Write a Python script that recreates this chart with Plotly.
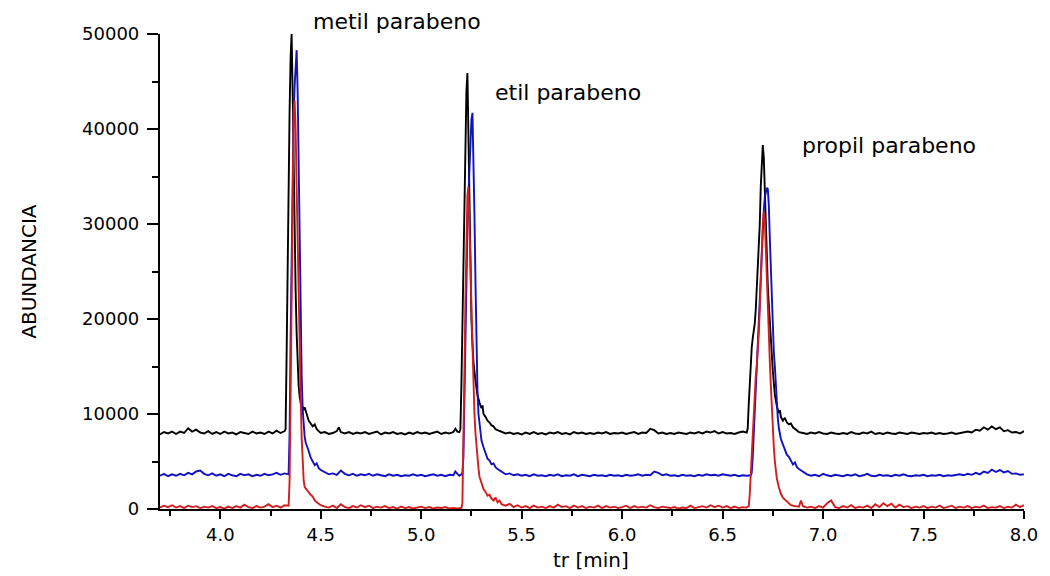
import plotly.graph_objects as go

# Chromatogram traces: (retention time [min], abundance) pairs
black_trace = [
    (3.70, 7850), (3.72, 8100), (3.74, 7950), (3.76, 8150), (3.78, 7900), (3.80, 8150),
    (3.82, 8000), (3.84, 8500), (3.86, 8150), (3.88, 8350), (3.90, 8050), (3.92, 7950),
    (3.94, 8200), (3.96, 7900), (3.98, 8100), (4.00, 7900), (4.02, 8150), (4.04, 7950),
    (4.06, 8050), (4.08, 7850), (4.10, 8100), (4.12, 8000), (4.14, 7900), (4.16, 8150),
    (4.18, 7950), (4.20, 8050), (4.22, 7900), (4.24, 8150), (4.26, 7950), (4.28, 8250),
    (4.30, 8000), (4.32, 8200),
    (4.325, 8400), (4.33, 16000), (4.335, 26000), (4.34, 34000), (4.345, 42000),
    (4.35, 47500), (4.355, 50000), (4.36, 44000), (4.365, 36000), (4.37, 29000),
    (4.375, 23000), (4.38, 18500), (4.385, 15000), (4.39, 13000), (4.395, 11800),
    (4.40, 11000), (4.405, 10600), (4.41, 10800), (4.415, 10400), (4.42, 10700),
    (4.43, 10000), (4.44, 9300), (4.45, 9000), (4.46, 8700), (4.47, 8900), (4.48, 8400),
    (4.49, 8200), (4.50, 8000), (4.52, 8100), (4.54, 7900), (4.56, 8000), (4.58, 8200),
    (4.59, 8600), (4.60, 8100), (4.62, 7950), (4.64, 8100), (4.66, 7900), (4.68, 8050),
    (4.70, 7950), (4.72, 8100), (4.74, 7900), (4.76, 8000), (4.78, 8150), (4.80, 7850),
    (4.82, 8050), (4.84, 7950), (4.86, 8100), (4.88, 7900), (4.90, 8000), (4.92, 7850),
    (4.94, 8050), (4.96, 7900), (4.98, 8100), (5.00, 7950), (5.02, 8050), (5.04, 7900),
    (5.06, 8000), (5.08, 8150), (5.10, 7900), (5.12, 8050), (5.14, 7950), (5.16, 8100),
    (5.17, 8450), (5.18, 8150), (5.19, 8100),
    (5.195, 8400), (5.20, 13000), (5.205, 19000), (5.21, 25000), (5.215, 33000),
    (5.22, 39000), (5.225, 44000), (5.23, 45900), (5.235, 38500), (5.24, 31000),
    (5.245, 24500), (5.25, 20000), (5.255, 17500), (5.26, 15500), (5.27, 13500),
    (5.28, 12000), (5.29, 11200), (5.30, 10600), (5.305, 10900), (5.31, 10000),
    (5.32, 9700), (5.33, 9300), (5.34, 9100), (5.35, 8800), (5.36, 8700), (5.37, 8400),
    (5.38, 8300), (5.40, 8150), (5.42, 7950), (5.44, 8050), (5.46, 7900), (5.48, 8000),
    (5.50, 7850), (5.52, 8050), (5.54, 7900), (5.56, 8100), (5.58, 7900), (5.60, 8000),
    (5.62, 7850), (5.64, 8050), (5.66, 7950), (5.68, 8100), (5.70, 7900), (5.72, 8000),
    (5.74, 7850), (5.76, 8100), (5.78, 7950), (5.80, 8050), (5.82, 7900), (5.84, 8000),
    (5.86, 7900), (5.88, 8050), (5.90, 7950), (5.92, 8100), (5.94, 7900), (5.96, 8000),
    (5.98, 7950), (6.00, 8050), (6.02, 7900), (6.04, 8000), (6.06, 8100), (6.08, 7900),
    (6.10, 8050), (6.12, 8000), (6.14, 8450), (6.16, 8300), (6.18, 7950), (6.20, 8050),
    (6.22, 7900), (6.24, 8000), (6.26, 7900), (6.28, 8050), (6.30, 7950), (6.32, 7900),
    (6.34, 8050), (6.36, 7950), (6.38, 8100), (6.40, 7950), (6.42, 8150), (6.44, 8050),
    (6.46, 8200), (6.48, 7950), (6.50, 8100), (6.52, 7950), (6.54, 8000), (6.56, 7900),
    (6.58, 8050), (6.60, 8150), (6.62, 8050),
    (6.625, 8500), (6.63, 11000), (6.635, 13500), (6.64, 15500), (6.645, 17000),
    (6.65, 18000), (6.655, 18800), (6.66, 19500), (6.665, 21000), (6.67, 23000),
    (6.675, 25000), (6.68, 26500), (6.685, 30000), (6.69, 34000), (6.695, 37000),
    (6.70, 38300), (6.705, 37000), (6.71, 33000), (6.715, 29000), (6.72, 26000),
    (6.725, 23500), (6.73, 21500), (6.735, 19500), (6.74, 17800), (6.75, 14500),
    (6.76, 12000), (6.77, 10800), (6.78, 10100), (6.785, 10400), (6.79, 9700),
    (6.80, 9300), (6.81, 9600), (6.82, 9100), (6.83, 8900), (6.84, 9000), (6.85, 8600),
    (6.86, 8400), (6.88, 8100), (6.90, 8000), (6.92, 7900), (6.94, 8050), (6.96, 7950),
    (6.98, 8100), (7.00, 7950), (7.02, 7900), (7.04, 8050), (7.06, 7950), (7.08, 7900),
    (7.10, 8000), (7.12, 7900), (7.14, 8100), (7.16, 7950), (7.18, 7900), (7.20, 8050),
    (7.22, 7950), (7.24, 8150), (7.26, 7900), (7.28, 8000), (7.30, 7900), (7.32, 8050),
    (7.34, 7950), (7.36, 7900), (7.38, 8050), (7.40, 7950), (7.42, 7900), (7.44, 8050),
    (7.46, 7950), (7.48, 7900), (7.50, 8000), (7.52, 7950), (7.54, 8050), (7.56, 7900),
    (7.58, 8000), (7.60, 7900), (7.62, 7950), (7.64, 8050), (7.66, 7900), (7.68, 8000),
    (7.70, 8050), (7.72, 8150), (7.74, 8050), (7.76, 8350), (7.78, 8250), (7.80, 8600),
    (7.82, 8350), (7.84, 8700), (7.86, 8400), (7.88, 8600), (7.90, 8200), (7.92, 8300),
    (7.94, 8050), (7.96, 8100), (7.98, 7950), (8.00, 8200),
]

blue_trace = [
    (3.70, 3500), (3.72, 3700), (3.74, 3450), (3.76, 3650), (3.78, 3500), (3.80, 3700),
    (3.82, 3550), (3.84, 3800), (3.86, 3650), (3.88, 3950), (3.90, 4050), (3.92, 3700),
    (3.94, 3550), (3.96, 3750), (3.98, 3500), (4.00, 3650), (4.02, 3450), (4.04, 3700),
    (4.06, 3550), (4.08, 3450), (4.10, 3700), (4.12, 3550), (4.14, 3650), (4.16, 3450),
    (4.18, 3600), (4.20, 3500), (4.22, 3700), (4.24, 3550), (4.26, 3650), (4.28, 3800),
    (4.30, 3600), (4.32, 3750), (4.34, 3650),
    (4.345, 8000), (4.35, 18000), (4.355, 28000), (4.36, 36000), (4.365, 41500),
    (4.37, 44500), (4.375, 47500), (4.38, 48300), (4.385, 44000), (4.39, 35000),
    (4.395, 26000), (4.40, 19000), (4.405, 14000), (4.41, 10500), (4.415, 8800),
    (4.42, 7600), (4.425, 7000), (4.43, 6600), (4.44, 6100), (4.45, 5400), (4.46, 5000),
    (4.47, 4600), (4.48, 4800), (4.49, 4300), (4.50, 4100), (4.52, 3900), (4.54, 3650),
    (4.56, 3750), (4.58, 3600), (4.60, 4050), (4.62, 3700), (4.64, 3550), (4.66, 3700),
    (4.68, 3500), (4.70, 3650), (4.72, 3550), (4.74, 3700), (4.76, 3500), (4.78, 3650),
    (4.80, 3550), (4.82, 3450), (4.84, 3650), (4.86, 3500), (4.88, 3600), (4.90, 3450),
    (4.92, 3550), (4.94, 3500), (4.96, 3650), (4.98, 3500), (5.00, 3600), (5.02, 3450),
    (5.04, 3550), (5.06, 3650), (5.08, 3500), (5.10, 3600), (5.12, 3450), (5.14, 3600),
    (5.16, 3550), (5.17, 3950), (5.18, 3700), (5.19, 3500), (5.20, 3650),
    (5.205, 3800), (5.21, 5500), (5.215, 12000), (5.22, 19500), (5.225, 25000),
    (5.23, 29500), (5.235, 33000), (5.24, 36000), (5.245, 39000), (5.25, 41000),
    (5.255, 41700), (5.26, 37000), (5.265, 31000), (5.27, 24000), (5.275, 17500),
    (5.28, 12500), (5.285, 10000), (5.29, 8800), (5.295, 7800), (5.30, 7200),
    (5.31, 6500), (5.32, 5900), (5.33, 5300), (5.34, 5100), (5.35, 4700), (5.36, 4800),
    (5.37, 4400), (5.38, 4200), (5.40, 3900), (5.42, 3650), (5.44, 3750), (5.46, 3550),
    (5.48, 3650), (5.50, 3500), (5.52, 3600), (5.54, 3450), (5.56, 3650), (5.58, 3500),
    (5.60, 3550), (5.62, 3450), (5.64, 3600), (5.66, 3500), (5.68, 3650), (5.70, 3450),
    (5.72, 3550), (5.74, 3500), (5.76, 3650), (5.78, 3450), (5.80, 3600), (5.82, 3500),
    (5.84, 3450), (5.86, 3600), (5.88, 3500), (5.90, 3550), (5.92, 3450), (5.94, 3600),
    (5.96, 3500), (5.98, 3550), (6.00, 3450), (6.02, 3600), (6.04, 3500), (6.06, 3550),
    (6.08, 3650), (6.10, 3500), (6.12, 3600), (6.14, 3550), (6.16, 3950), (6.18, 3800),
    (6.20, 3550), (6.22, 3650), (6.24, 3500), (6.26, 3550), (6.28, 3450), (6.30, 3600),
    (6.32, 3500), (6.34, 3550), (6.36, 3450), (6.38, 3600), (6.40, 3500), (6.42, 3650),
    (6.44, 3550), (6.46, 3600), (6.48, 3500), (6.50, 3650), (6.52, 3550), (6.54, 3500),
    (6.56, 3600), (6.58, 3450), (6.60, 3550), (6.62, 3500), (6.64, 3550),
    (6.645, 3800), (6.65, 5500), (6.655, 8000), (6.66, 10500), (6.665, 12500),
    (6.67, 14500), (6.675, 16500), (6.68, 19000), (6.685, 22000), (6.69, 25000),
    (6.695, 27500), (6.70, 29500), (6.705, 31500), (6.71, 32800), (6.715, 33500),
    (6.72, 33800), (6.725, 33700), (6.73, 32000), (6.735, 28500), (6.74, 25000),
    (6.745, 21500), (6.75, 18500), (6.755, 16500), (6.76, 15000), (6.765, 13000),
    (6.77, 11000), (6.775, 9500), (6.78, 8500), (6.79, 7400), (6.80, 6800), (6.81, 6200),
    (6.82, 5700), (6.83, 5500), (6.84, 5000), (6.85, 4700), (6.86, 4900), (6.87, 4400),
    (6.88, 4200), (6.90, 3900), (6.92, 3650), (6.94, 3500), (6.96, 3600), (6.98, 3450),
    (7.00, 3700), (7.02, 3550), (7.04, 3450), (7.06, 3600), (7.08, 3500), (7.10, 3450),
    (7.12, 3600), (7.14, 3500), (7.16, 3650), (7.18, 3450), (7.20, 3550), (7.22, 3700),
    (7.24, 3500), (7.26, 3450), (7.28, 3600), (7.30, 3500), (7.32, 3550), (7.34, 3450),
    (7.36, 3600), (7.38, 3500), (7.40, 3650), (7.42, 3500), (7.44, 3450), (7.46, 3550),
    (7.48, 3500), (7.50, 3600), (7.52, 3450), (7.54, 3550), (7.56, 3500), (7.58, 3600),
    (7.60, 3450), (7.62, 3550), (7.64, 3500), (7.66, 3600), (7.68, 3650), (7.70, 3550),
    (7.72, 3700), (7.74, 3600), (7.76, 3800), (7.78, 3650), (7.80, 3950), (7.82, 3800),
    (7.84, 4150), (7.86, 3900), (7.88, 4100), (7.90, 3850), (7.92, 4000), (7.94, 3700),
    (7.96, 3750), (7.98, 3600), (8.00, 3650),
]

red_trace = [
    (3.70, 150), (3.72, 350), (3.74, 200), (3.76, 400), (3.78, 150), (3.80, 300),
    (3.82, 100), (3.84, 350), (3.86, 200), (3.88, 300), (3.90, 100), (3.92, 250),
    (3.94, 150), (3.96, 300), (3.98, 100), (4.00, 200), (4.02, 50), (4.04, 250),
    (4.06, 100), (4.08, 300), (4.10, 150), (4.12, 450), (4.14, 200), (4.16, 100),
    (4.18, 300), (4.20, 150), (4.22, 250), (4.24, 500), (4.26, 200), (4.28, 350),
    (4.30, 150), (4.32, 400), (4.34, 350),
    (4.345, 3000), (4.35, 12000), (4.355, 24000), (4.36, 35000), (4.365, 42000),
    (4.37, 43000), (4.375, 40000), (4.38, 34000), (4.385, 27500), (4.39, 21500),
    (4.395, 16500), (4.40, 12000), (4.405, 7500), (4.41, 4500), (4.415, 3000),
    (4.42, 2300), (4.43, 2000), (4.44, 1800), (4.45, 1500), (4.46, 1300), (4.47, 900),
    (4.48, 700), (4.49, 500), (4.50, 400), (4.52, 250), (4.54, 150), (4.56, 350),
    (4.58, 100), (4.60, 500), (4.62, 200), (4.64, 100), (4.66, 300), (4.68, 150),
    (4.70, 400), (4.72, 200), (4.74, 350), (4.76, 100), (4.78, 250), (4.80, 150),
    (4.82, 300), (4.84, 100), (4.86, 200), (4.88, 50), (4.90, 250), (4.92, 100),
    (4.94, 200), (4.96, 50), (4.98, 150), (5.00, 250), (5.02, 100), (5.04, 200),
    (5.06, 50), (5.08, 150), (5.10, 100), (5.12, 200), (5.14, 50), (5.16, 100),
    (5.18, 50), (5.20, 100),
    (5.205, 600), (5.21, 6000), (5.215, 14000), (5.22, 22000), (5.225, 29000),
    (5.23, 33000), (5.235, 33900), (5.24, 31000), (5.245, 26000), (5.25, 21000),
    (5.255, 16500), (5.26, 12500), (5.265, 10000), (5.27, 8000), (5.275, 6500),
    (5.28, 5300), (5.285, 4300), (5.29, 3400), (5.30, 2600), (5.31, 2100), (5.32, 1800),
    (5.33, 1400), (5.34, 1500), (5.35, 1100), (5.36, 900), (5.37, 1200), (5.38, 700),
    (5.39, 900), (5.40, 500), (5.42, 350), (5.44, 550), (5.46, 200), (5.48, 400),
    (5.50, 150), (5.52, 300), (5.54, 100), (5.56, 350), (5.58, 150), (5.60, 250),
    (5.62, 100), (5.64, 300), (5.66, 150), (5.68, 450), (5.70, 200), (5.72, 300),
    (5.74, 100), (5.76, 350), (5.78, 150), (5.80, 300), (5.82, 100), (5.84, 250),
    (5.86, 150), (5.88, 350), (5.90, 100), (5.92, 300), (5.94, 150), (5.96, 250),
    (5.98, 100), (6.00, 200), (6.02, 350), (6.04, 100), (6.06, 300), (6.08, 150),
    (6.10, 250), (6.12, 150), (6.14, 400), (6.16, 200), (6.18, 100), (6.20, 250),
    (6.22, 150), (6.24, 100), (6.26, 200), (6.28, 50), (6.30, 150), (6.32, 100),
    (6.34, 350), (6.36, 100), (6.38, 200), (6.40, 300), (6.42, 150), (6.44, 400),
    (6.46, 200), (6.48, 350), (6.50, 150), (6.52, 300), (6.54, 100), (6.56, 250),
    (6.58, 100), (6.60, 200), (6.62, 150), (6.63, 300),
    (6.635, 1500), (6.64, 3500), (6.645, 6000), (6.65, 8500), (6.655, 10500),
    (6.66, 12500), (6.665, 14000), (6.67, 15000), (6.675, 16500), (6.68, 18500),
    (6.685, 21000), (6.69, 24500), (6.695, 27600), (6.70, 30000), (6.705, 31300),
    (6.71, 30500), (6.715, 27500), (6.72, 24000), (6.725, 20500), (6.73, 17500),
    (6.735, 15500), (6.74, 13000), (6.745, 10500), (6.75, 8500), (6.755, 6500),
    (6.76, 5000), (6.765, 4000), (6.77, 3200), (6.78, 2300), (6.79, 1600), (6.80, 1200),
    (6.81, 1000), (6.82, 700), (6.83, 550), (6.84, 400), (6.86, 300), (6.88, 250),
    (6.89, 900), (6.90, 300), (6.92, 150), (6.94, 250), (6.96, 100), (6.98, 300),
    (7.00, 150), (7.02, 600), (7.04, 900), (7.06, 200), (7.08, 100), (7.10, 300),
    (7.12, 150), (7.14, 400), (7.16, 100), (7.18, 250), (7.20, 150), (7.22, 350),
    (7.24, 100), (7.26, 500), (7.28, 200), (7.30, 600), (7.32, 300), (7.34, 550),
    (7.36, 150), (7.38, 450), (7.40, 200), (7.42, 300), (7.44, 100), (7.46, 250),
    (7.48, 150), (7.50, 300), (7.52, 100), (7.54, 250), (7.56, 150), (7.58, 350),
    (7.60, 100), (7.62, 200), (7.64, 350), (7.66, 100), (7.68, 250), (7.70, 150),
    (7.72, 300), (7.74, 100), (7.76, 250), (7.78, 150), (7.80, 350), (7.82, 100),
    (7.84, 200), (7.86, 150), (7.88, 300), (7.90, 100), (7.92, 250), (7.94, 150),
    (7.96, 450), (7.98, 200), (8.00, 400),
]

# Peak labels: (text, retention time of label centre, abundance of label centre)
peak_names = ["metil parabeno", "etil parabeno", "propil parabeno"]
peak_label_x = [4.88, 5.73, 7.33]
peak_label_y = [51300, 43800, 38300]

x_title = "tr [min]"
y_title = "ABUNDANCIA"

Y_MAX = 50000
FONT = "DejaVu Sans"

fig = go.Figure()
for data, color in [(black_trace, "#000000"), (blue_trace, "#1010c4"), (red_trace, "#d41c1c")]:
    fig.add_trace(go.Scatter(
        x=[p[0] for p in data],
        y=[p[1] for p in data],
        mode="lines",
        line=dict(color=color, width=1.9),
        showlegend=False,
        hoverinfo="skip",
    ))

# labels are placed in axis-domain units vertically so the top one may sit above the frame
for name, lx, ly in zip(peak_names, peak_label_x, peak_label_y):
    fig.add_annotation(x=lx, y=ly / Y_MAX, xref="x", yref="y domain", text=name,
                       showarrow=False, xanchor="center", yanchor="middle",
                       font=dict(family=FONT, size=22, color="#000000"))

fig.add_annotation(x=0.499, y=-0.107, xref="paper", yref="paper", text=x_title,
                   showarrow=False, xanchor="center", yanchor="middle",
                   font=dict(family=FONT, size=20, color="#000000"))
fig.add_annotation(x=-0.1525, y=0.50, xref="paper", yref="paper", text=y_title,
                   showarrow=False, textangle=-90, xanchor="center", yanchor="middle",
                   font=dict(family=FONT, size=20, color="#000000"))

fig.update_layout(
    width=1050, height=576,
    margin=dict(l=160, r=18, t=34, b=67),
    paper_bgcolor="white", plot_bgcolor="white",
    font=dict(family=FONT, size=18, color="#000000"),
    xaxis=dict(
        range=[3.7, 8.0], tick0=4.0, dtick=0.5, tickformat=".1f",
        ticks="outside", ticklen=8, tickwidth=2, tickcolor="#000000",
        showline=True, linecolor="#000000", linewidth=2.2,
        showgrid=False, zeroline=False,
        minor=dict(dtick=0.25, tick0=3.75, ticks="outside", ticklen=5,
                   tickwidth=2, tickcolor="#000000", showgrid=False),
        tickfont=dict(family=FONT, size=18),
    ),
    yaxis=dict(
        range=[0, Y_MAX], tick0=0, dtick=10000, tickformat="d",
        ticks="outside", ticklen=11, tickwidth=2, tickcolor="#000000",
        showline=True, linecolor="#000000", linewidth=2.2,
        showgrid=False, zeroline=False,
        minor=dict(dtick=5000, ticks="outside", ticklen=6,
                   tickwidth=2, tickcolor="#000000", showgrid=False),
        tickfont=dict(family=FONT, size=18),
        ticklabelstandoff=4,
    ),
)

fig.write_html("out.html")
